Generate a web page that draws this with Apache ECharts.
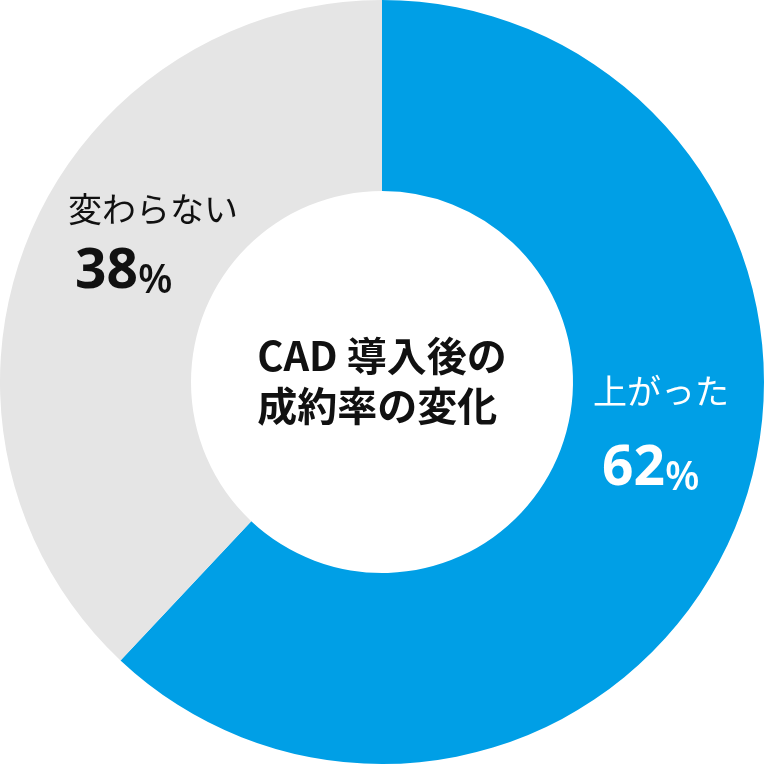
<!DOCTYPE html>
<html>
<head>
<meta charset="utf-8">
<style>html,body{margin:0;padding:0;background:#fff;}#chart{width:764px;height:764px;}</style>
<script src="https://cdn.jsdelivr.net/npm/echarts@6/dist/echarts.min.js"></script>
</head>
<body>
<div id="chart"></div>
<script>
var categories = ['上がった', '変わらない'];
var values = [62, 38];
var colors = ['#009fe6', '#e5e5e5'];
var centerLines = ['CAD 導入後の', '成約率の変化'];

var chart = echarts.init(document.getElementById('chart'));
var FONT = '"Noto Sans CJK JP", "Noto Sans", sans-serif';

function labelGroup(idx, x, y, numX, numY, fill) {
  return [
    {type: 'text', z: 100, left: x, top: y, style: {text: categories[idx], fill: fill, font: '400 34px ' + FONT}},
    {type: 'text', z: 100, left: numX, top: numY, style: {
      text: '{n|' + values[idx] + '}{p|%}',
      fill: fill,
      rich: {
        n: {fontFamily: '"Open Sans", sans-serif', fontWeight: 700, fontSize: 55, fill: fill, lineHeight: 64},
        p: {fontFamily: '"Open Sans", sans-serif', fontWeight: 600, fontSize: 40, fill: fill, lineHeight: 64, verticalAlign: 'bottom', padding: [0,0,3,0]}
      }
    }}
  ];
}

chart.setOption({
  animation: false,
  color: colors,
  series: [{
    type: 'pie',
    center: ['50%', '50%'],
    radius: ['50%', '100%'],
    startAngle: 90,
    clockwise: true,
    label: {show: false},
    labelLine: {show: false},
    emphasis: {disabled: true},
    itemStyle: {borderWidth: 0},
    data: categories.map(function (c, i) { return {name: c, value: values[i]}; })
  }],
  graphic: [
    {type: 'text', z: 100, left: 'center', top: 331, style: {
      text: centerLines.join('\n'), fill: '#111', align: 'center',
      font: '700 40px ' + FONT, lineHeight: 50
    }}
  ].concat(labelGroup(0, 593, 374, 602, 442, '#ffffff'), labelGroup(1, 68, 192, 75, 245, '#111111'))
});
</script>
</body>
</html>
